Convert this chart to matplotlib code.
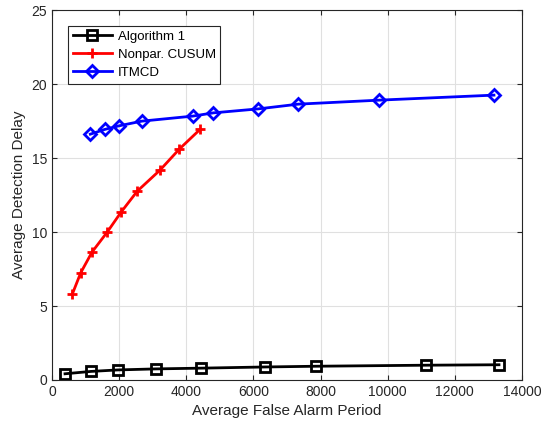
import numpy as np
from matplotlib import pyplot as plt

plt.rcParams['font.family'] = ['Liberation Sans', 'DejaVu Sans']

# Algorithm 1
alg_x = [387, 1162, 1957, 3089, 4430, 6345, 7864, 11141, 13316]
alg_y = [0.42, 0.58, 0.68, 0.75, 0.80, 0.88, 0.93, 1.00, 1.03]
# Nonparametric CUSUM
cusum_x = [605, 855, 1192, 1638, 2064, 2541, 3217, 3792, 4418]
cusum_y = [5.81, 7.25, 8.65, 9.98, 11.37, 12.77, 14.19, 15.61, 16.96]
# ITMCD
itmcd_x = [1141, 1570, 1987, 2672, 4191, 4805, 6145, 7337, 9741, 13166]
itmcd_y = [16.62, 16.94, 17.18, 17.50, 17.84, 18.06, 18.33, 18.65, 18.92, 19.26]

fig = plt.figure(figsize=(5.42, 4.26), dpi=100)
ax = fig.add_axes([0.096, 0.108, 0.867, 0.868])

ax.plot(alg_x, alg_y, '-s', color='k', lw=2, ms=6.5, mfc='none', mew=2, label='Algorithm 1')
ax.plot(cusum_x, cusum_y, '-+', color='r', lw=2, ms=7.5, mew=2, label='Nonpar. CUSUM')
ax.plot(itmcd_x, itmcd_y, '-D', color='b', lw=2, ms=6.5, mfc='none', mew=2, label='ITMCD')

ax.set_xlim([0, 14000])
ax.set_ylim([0, 25])
ax.set_xticks(np.arange(0, 14001, 2000))
ax.set_yticks(np.arange(0, 26, 5))
ax.grid(True, color='#e0e0e0', lw=0.8)
ax.set_axisbelow(True)
ax.tick_params(direction='in', top=True, right=True, labelsize=10, colors='#262626')
for s in ax.spines.values():
    s.set_color('#262626')
ax.set_xlabel('Average False Alarm Period', fontsize=11, color='#262626')
ax.set_ylabel('Average Detection Delay', fontsize=11, color='#262626')

leg = ax.legend(loc='upper left', bbox_to_anchor=(0.02, 0.976), fontsize=9.5,
                fancybox=False, framealpha=1, edgecolor='#262626',
                handlelength=3.0, handletextpad=0.4, borderpad=0.35, labelspacing=0.45)
leg.get_frame().set_linewidth(0.8)

fig.savefig('out.png', dpi=100)
